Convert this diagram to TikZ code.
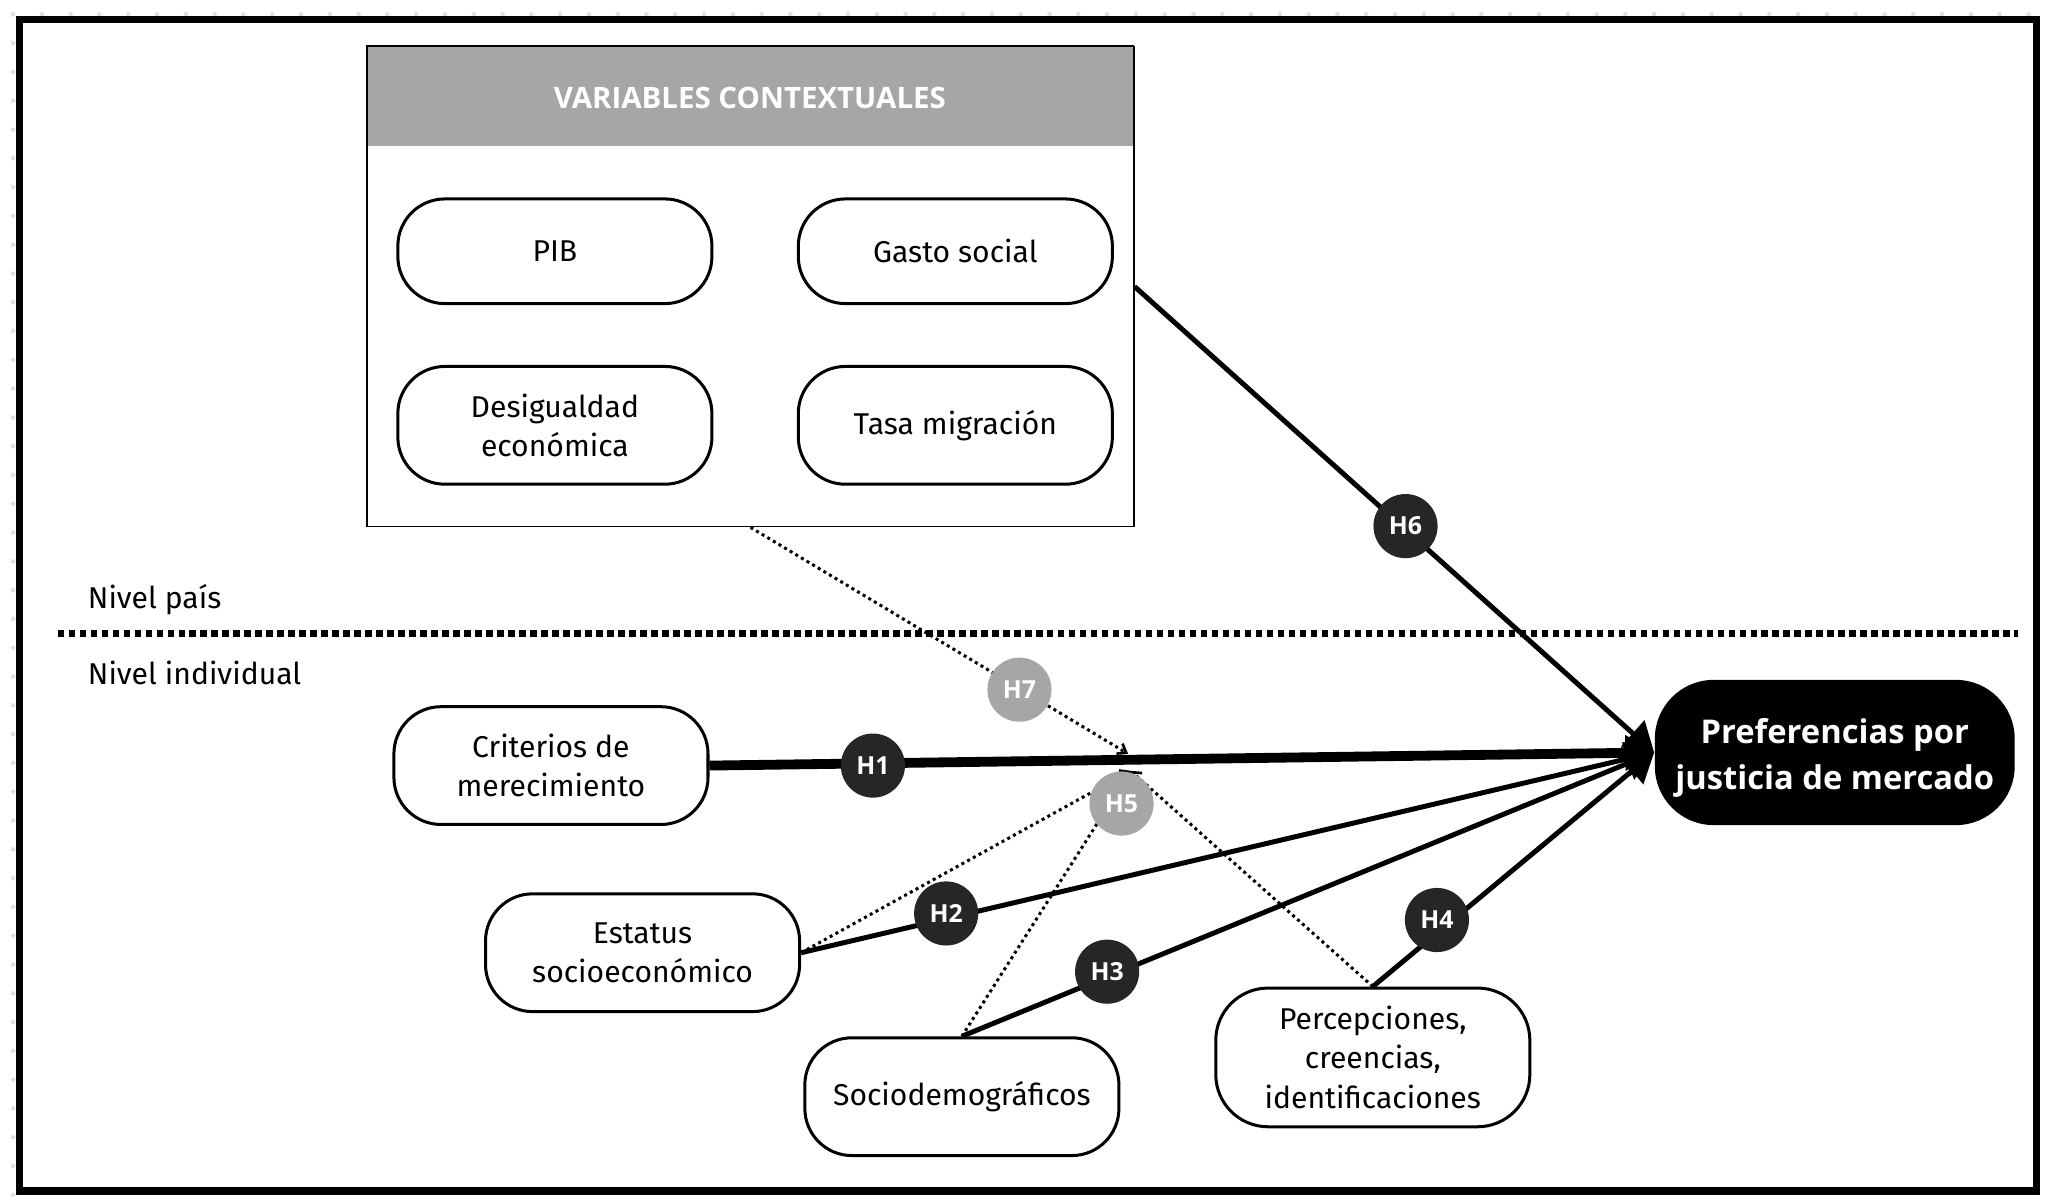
\documentclass[tikz,border=0pt]{standalone}
\usepackage{fontspec}
\setmainfont{Fira Sans}
\newfontfamily\headfont{Open Sans}
\usetikzlibrary{arrows.meta}
\definecolor{hgray}{HTML}{A6A6A6}
\definecolor{hdark}{HTML}{262626}
\definecolor{dotc}{HTML}{DCE1E8}
\begin{document}
\begin{tikzpicture}[x=1pt,y=-1pt,
  pill/.style={draw, line width=2.3pt, rounded corners=36pt, minimum width=240pt, minimum height=90pt,
    align=center, inner sep=0pt, font=\fontsize{23}{30}\selectfont},
  hyp/.style={circle, fill=hdark, text=white, minimum size=49pt, inner sep=0pt,
    font=\headfont\bfseries\fontsize{19}{19}\selectfont},
  hypg/.style={hyp, fill=hgray},
  strong/.style={line width=3.8pt, -{Triangle[length=22pt,width=26pt]}},
  dotline/.style={line width=2.3pt, dash pattern=on 2.3pt off 2.7pt},
  smalltip/.style={-{Straight Barb[length=6pt,width=9pt,line width=2pt]}},
  lvl/.style={anchor=base west, inner sep=0pt, font=\fontsize{23}{27}\selectfont}
]
\useasboundingbox (0,0) rectangle (1568,918);
% faint dotted edges
\draw[dotc, line width=3.5pt, line cap=round, dash pattern=on 0pt off 22pt] (10,11) -- (1560,11);
\draw[dotc, line width=3.5pt, line cap=round, dash pattern=on 0pt off 22pt] (10,11) -- (10,914);
% outer frame
\draw[line width=5.5pt] (15,15) rectangle (1556,910);

% contextual variables box
\node[fill=hgray, anchor=north west, minimum width=586pt, minimum height=76pt, inner sep=0pt] (vhead) at (280,35) {};
\node[text=white, inner sep=0pt, font=\headfont\bfseries\fontsize{22.5}{22.5}\selectfont] (vtitle) at (573,75) {VARIABLES CONTEXTUALES};
\node[draw, line width=1pt, anchor=north west, minimum width=586pt, minimum height=367pt, inner sep=0pt] (varbox) at (280,35) {};
\draw[line width=1.5pt] (vhead.north west) -- (vhead.north east);

\node[pill, minimum height=80pt] (pib) at (424,192) {PIB};
\node[pill, minimum height=80pt] (gasto) at (730,192) {Gasto social};
\node[pill] (desig) at (424,325) {Desigualdad\\económica};
\node[pill] (tasa) at (730,325) {Tasa migración};

% levels
\node[lvl] (npais) at (67,465) {Nivel país};
\node[lvl] (nind) at (67,523) {Nivel individual};
\draw[line width=5pt, dash pattern=on 5pt off 3.4pt] (44,484) -- (1542,484);

% individual nodes
\node[pill] (crit) at (421,585) {Criterios de\\merecimiento};
\node[pill] (estat) at (491,728) {Estatus\\socioeconómico};
\node[pill] (socio) at (735,838) {Sociodemográficos};
\node[pill, minimum height=106pt, rounded corners=40pt] (perc) at (1049,808) {Percepciones,\\creencias,\\identificaciones};
\node[fill=black, rounded corners=45pt, minimum width=275pt, minimum height=111pt, inner sep=0pt] (pref) at (1402,575) {};
\node[inner sep=0pt, align=center, text=white, font=\headfont\bfseries\fontsize{25}{35}\selectfont] (preftxt) at (1402,579) {Preferencias por\\justicia de mercado};

\coordinate (tip) at (1264,575);
\coordinate (h6s) at (867,219);
\coordinate (j1) at (862,576);
\coordinate (j2) at (864,589);

% dotted moderation paths
\draw[dotline, smalltip] (varbox.south) -- (j1);
\draw[dotline, smalltip] (estat.east) -- (j2);
\draw[dotline, smalltip] (socio.north) -- (j2);
\draw[dotline, smalltip] (perc.north) -- (j2);

% main effects
\draw[strong, line width=7.5pt] (crit.east) -- (tip);
\draw[strong] (h6s) -- (tip);
\draw[strong] (estat.east) -- (tip);
\draw[strong] (socio.north) -- (tip);
\draw[strong] (perc.north) -- (tip);

% hypothesis labels
\node[hyp] (h1) at (667,585) {H1};
\node[hyp] (h2) at (723,698) {H2};
\node[hyp] (h3) at (846,742.5) {H3};
\node[hyp] (h4) at (1098,703) {H4};
\node[hyp] (h6) at (1074,402) {H6};
\node[hypg] (h7) at (779,527) {H7};
\node[hypg] (h5) at (857,614) {H5};
\end{tikzpicture}
\end{document}
